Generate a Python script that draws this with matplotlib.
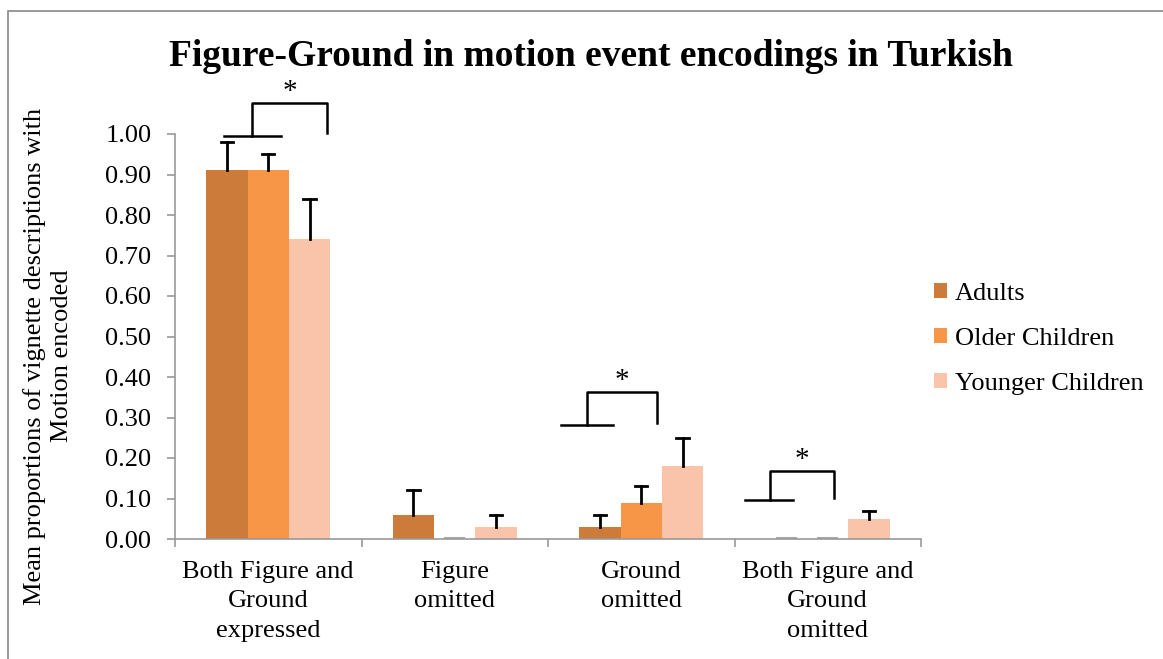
import matplotlib
matplotlib.use("Agg")
import matplotlib.pyplot as plt
import numpy as np
from matplotlib.patches import Rectangle

plt.rcParams['font.family'] = ['Liberation Serif', 'DejaVu Serif']

categories = ["Both Figure and\nGround\nexpressed", "Figure\nomitted",
              "Ground\nomitted", "Both Figure and\nGround\nomitted"]
groups = ["Adults", "Older Children", "Younger Children"]
colors = ['#CC7B3A', '#F79646', '#F9C4A9']

# means and upper error bars
adults = [0.91, 0.06, 0.03, 0.00]
older = [0.91, 0.00, 0.09, 0.00]
younger = [0.74, 0.03, 0.18, 0.05]
adults_err = [0.07, 0.06, 0.03, 0.00]
older_err = [0.04, 0.00, 0.04, 0.00]
younger_err = [0.10, 0.03, 0.07, 0.02]

# significance brackets: (line x0, line x1, line y, bracket left x, bracket right x, top y, right end y)
brackets = [(-0.237, 0.068, 0.995, -0.087, 0.315, 1.077, 1.002),
            (1.570, 1.849, 0.281, 1.709, 2.084, 0.363, 0.286),
            (2.556, 2.814, 0.096, 2.690, 3.034, 0.168, 0.101)]

fig = plt.figure(figsize=(11.63, 6.59), dpi=100)
ax = fig.add_axes([175 / 1163, 1 - 539 / 659, (921 - 175) / 1163, 405 / 659])

x = np.arange(len(categories))
w = 0.222
series = [adults, older, younger]
errs = [adults_err, older_err, younger_err]
for i, (vals, err) in enumerate(zip(series, errs)):
    pos = x + (i - 1) * w
    ax.bar(pos, vals, w, color=colors[i], label=groups[i], zorder=2)
    for p, v, e in zip(pos, vals, err):
        if e > 0:
            ax.plot([p, p], [v, v + e], color='black', lw=2, zorder=3)
            ax.plot([p - 0.033, p + 0.033], [v + e, v + e], color='black', lw=2, zorder=3)
        if v == 0:
            ax.plot([p - 0.05, p + 0.05], [0.002, 0.002], color='#aaaaaa', lw=1.5, zorder=1)

for (lx0, lx1, ly, bx0, bx1, ty, ry) in brackets:
    ax.plot([lx0, lx1], [ly, ly], color='black', lw=1.8, clip_on=False)
    ax.plot([bx0, bx0, bx1, bx1], [ly, ty, ty, ry], color='black', lw=1.8, clip_on=False)
    ax.text((bx0 + bx1) / 2, ty - 0.005, '*', ha='center', va='bottom', fontsize=21, clip_on=False)

ax.set_xlim(-0.5, 3.5)
ax.set_ylim(0, 1.0)
ax.set_yticks(np.arange(0, 1.01, 0.1))
ax.set_yticklabels([f"{v:.2f}" for v in np.arange(0, 1.01, 0.1)], fontsize=19)
ax.set_xticks([-0.5, 0.5, 1.5, 2.5, 3.5])
ax.set_xticklabels([])
ax.tick_params(axis='x', length=6, color='#999999', width=1.2)
ax.tick_params(axis='y', length=6, color='#999999', width=1.2, pad=11)
for i, c in enumerate(categories):
    ax.text(i, -0.055, c, ha='center', va='top', fontsize=19, linespacing=1.42)

for s in ['top', 'right']:
    ax.spines[s].set_visible(False)
for s in ['left', 'bottom']:
    ax.spines[s].set_color('#999999')
    ax.spines[s].set_linewidth(1.2)

fig.text(591 / 1163, 1 - 57 / 659, "Figure-Ground in motion event encodings in Turkish",
         ha='center', va='center', fontsize=27, fontweight='bold')
fig.text(48 / 1163, 1 - 356 / 659,
         "Mean proportions of vignette descriptions with\nMotion encoded",
         rotation=90, ha='center', va='center', fontsize=19, linespacing=1.25)

ax.legend(loc='center left', bbox_to_anchor=(910 / 1163, 1 - 339 / 659),
          bbox_transform=fig.transFigure, frameon=False, fontsize=19,
          handlelength=0.5, handleheight=0.5, handletextpad=0.3, labelspacing=0.88)

fig.patches.append(Rectangle((8 / 1163, -0.1), 1.2, 1 - 11 / 659 + 0.1,
                             transform=fig.transFigure, fill=False,
                             edgecolor='#888888', lw=1.2))

fig.savefig("out.png", dpi=100)
